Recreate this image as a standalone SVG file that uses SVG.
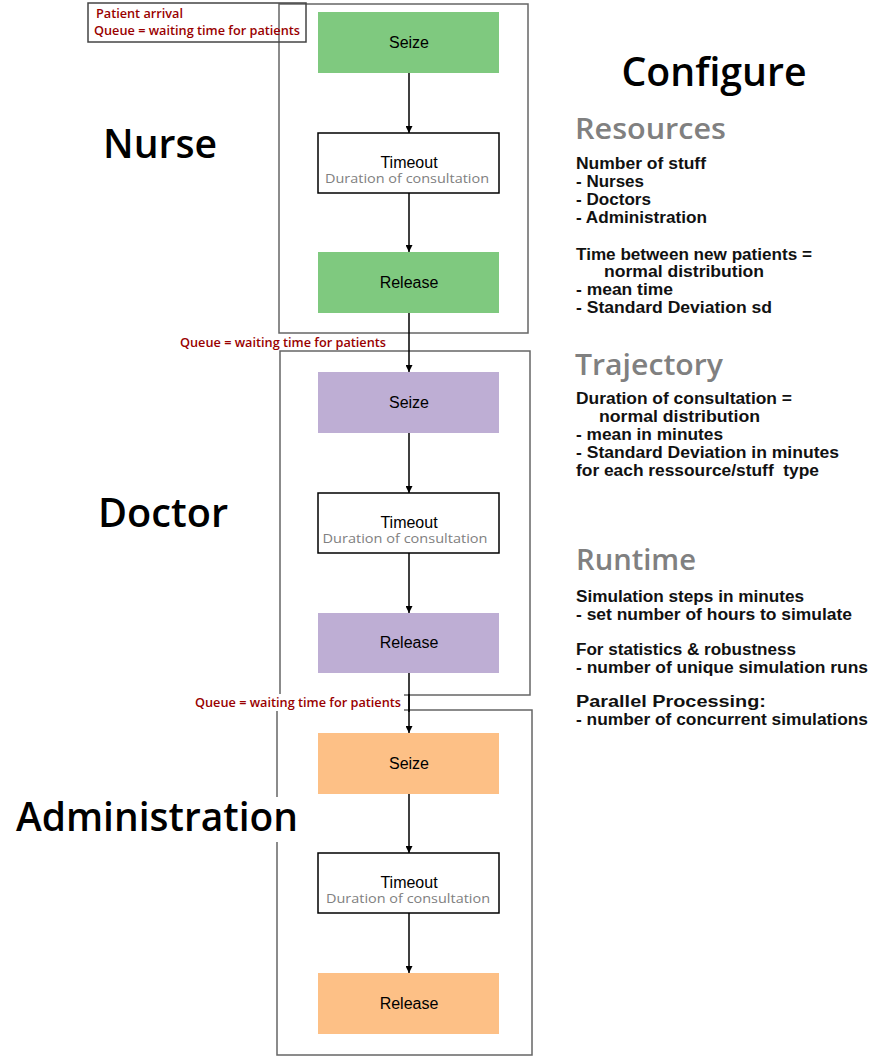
<svg xmlns="http://www.w3.org/2000/svg" width="879" height="1061" viewBox="0 0 879 1061">
<style>
.cont{fill:none;stroke:#666;stroke-width:1.5}
.node{stroke:none}
.tbox{fill:#fff;stroke:#000;stroke-width:1.5}
.ntxt{font-family:"Liberation Sans",Arial,sans-serif;font-size:16px;fill:#000;text-anchor:middle}
.dur{font-family:"Open Sans","Noto Sans",sans-serif;font-size:13px;fill:#808080;text-anchor:middle}
.lab{font-family:"Open Sans","Noto Sans",sans-serif;font-size:12px;font-weight:600;fill:#990000}
.big{font-family:"Open Sans","Noto Sans",sans-serif;font-size:40px;font-weight:600;fill:#000;text-anchor:middle}
.head{font-family:"Open Sans","Noto Sans",sans-serif;font-size:28px;font-weight:600;fill:#808080}
.body{font-family:"Liberation Sans",Arial,sans-serif;font-size:16px;font-weight:bold;fill:#111}
.edge{stroke:#000;stroke-width:1.5;fill:none;marker-end:url(#arr)}
</style>
<defs>
<marker id="arr" viewBox="0 0 10 10" refX="10" refY="5" markerWidth="7" markerHeight="7" markerUnits="userSpaceOnUse" orient="auto">
<path d="M0,0 L10,5 L0,10 z" fill="#000"/>
</marker>
</defs>
<rect width="879" height="1061" fill="#fff"/>

<g id="containers">
<rect id="nurse-container" class="cont" x="279" y="4" width="249" height="329"/>
<rect id="doctor-container" class="cont" x="280" y="351" width="250" height="344"/>
<rect id="admin-container" class="cont" x="277" y="710" width="255" height="345"/>
</g>

<g id="lane-labels">
<text class="big" x="160" y="158" textLength="114" lengthAdjust="spacingAndGlyphs">Nurse</text>
<text class="big" x="163" y="527" textLength="130" lengthAdjust="spacingAndGlyphs">Doctor</text>
<rect x="10" y="797" width="294" height="45" fill="#fff"/>
<text class="big" x="157" y="831" textLength="282" lengthAdjust="spacingAndGlyphs">Administration</text>
</g>

<g id="patient-arrival">
<rect x="88" y="3" width="218" height="39" fill="none" stroke="#444" stroke-width="1.5"/>
<text class="lab" x="96" y="18" textLength="87" lengthAdjust="spacingAndGlyphs">Patient arrival</text>
<text class="lab" x="94" y="35" textLength="206" lengthAdjust="spacingAndGlyphs">Queue = waiting time for patients</text>
</g>

<g id="nurse-seize"><rect class="node" x="318" y="12" width="181" height="61" fill="#7fc97f"/><text class="ntxt" x="409" y="48">Seize</text></g>
<g id="nurse-timeout"><rect class="tbox" x="318" y="133" width="181" height="60"/><text class="ntxt" x="409" y="168">Timeout</text><text class="dur" x="407" y="183" textLength="164" lengthAdjust="spacingAndGlyphs">Duration of consultation</text></g>
<g id="nurse-release"><rect class="node" x="318" y="252" width="181" height="61" fill="#7fc97f"/><text class="ntxt" x="409" y="288">Release</text></g>

<g id="doctor-seize"><rect class="node" x="318" y="372" width="181" height="61" fill="#beaed4"/><text class="ntxt" x="409" y="408">Seize</text></g>
<g id="doctor-timeout"><rect class="tbox" x="318" y="493" width="181" height="60"/><text class="ntxt" x="409" y="528">Timeout</text><text class="dur" x="405" y="543" textLength="165" lengthAdjust="spacingAndGlyphs">Duration of consultation</text></g>
<g id="doctor-release"><rect class="node" x="318" y="613" width="181" height="60" fill="#beaed4"/><text class="ntxt" x="409" y="648">Release</text></g>

<g id="admin-seize"><rect class="node" x="318" y="733" width="181" height="61" fill="#fdc086"/><text class="ntxt" x="409" y="769">Seize</text></g>
<g id="admin-timeout"><rect class="tbox" x="318" y="853" width="181" height="60"/><text class="ntxt" x="409" y="888">Timeout</text><text class="dur" x="408" y="903" textLength="164" lengthAdjust="spacingAndGlyphs">Duration of consultation</text></g>
<g id="admin-release"><rect class="node" x="318" y="973" width="181" height="61" fill="#fdc086"/><text class="ntxt" x="409" y="1009">Release</text></g>

<g id="connectors">
<line class="edge" x1="409" y1="73" x2="409" y2="133"/>
<line class="edge" x1="409" y1="193" x2="409" y2="252"/>
<line class="edge" x1="409" y1="313" x2="409" y2="372"/>
<line class="edge" x1="409" y1="433" x2="409" y2="493"/>
<line class="edge" x1="409" y1="553" x2="409" y2="613"/>
<line class="edge" x1="409" y1="673" x2="409" y2="733"/>
<line class="edge" x1="409" y1="794" x2="409" y2="853"/>
<line class="edge" x1="409" y1="913" x2="409" y2="973"/>
</g>

<g id="queue-labels">
<text class="lab" x="180" y="347" textLength="206" lengthAdjust="spacingAndGlyphs">Queue = waiting time for patients</text>
<rect x="190" y="694" width="214" height="17" fill="#fff"/>
<line x1="409" y1="694" x2="409" y2="712" stroke="#000" stroke-width="1.5"/>
<text class="lab" x="195" y="707" textLength="206" lengthAdjust="spacingAndGlyphs">Queue = waiting time for patients</text>
</g>

<g id="configure">
<text class="big" x="714" y="86" font-size="42" textLength="185" lengthAdjust="spacingAndGlyphs">Configure</text>
<text class="head" x="575" y="139" textLength="151" lengthAdjust="spacingAndGlyphs">Resources</text>
<text class="body" x="576" y="169" textLength="130" lengthAdjust="spacingAndGlyphs">Number of stuff</text>
<text class="body" x="576" y="187" textLength="68" lengthAdjust="spacingAndGlyphs">- Nurses</text>
<text class="body" x="576" y="205" textLength="75" lengthAdjust="spacingAndGlyphs">- Doctors</text>
<text class="body" x="576" y="223" textLength="131" lengthAdjust="spacingAndGlyphs">- Administration</text>
<text class="body" x="576" y="260" textLength="236" lengthAdjust="spacingAndGlyphs">Time between new patients =</text>
<text class="body" x="604" y="277" textLength="160" lengthAdjust="spacingAndGlyphs">normal distribution</text>
<text class="body" x="576" y="295" textLength="97" lengthAdjust="spacingAndGlyphs">- mean time</text>
<text class="body" x="576" y="313" textLength="196" lengthAdjust="spacingAndGlyphs">- Standard Deviation sd</text>

<text class="head" x="575" y="375" textLength="148" lengthAdjust="spacingAndGlyphs">Trajectory</text>
<text class="body" x="576" y="404" textLength="216" lengthAdjust="spacingAndGlyphs">Duration of consultation =</text>
<text class="body" x="599" y="422" textLength="161" lengthAdjust="spacingAndGlyphs">normal distribution</text>
<text class="body" x="576" y="440" textLength="147" lengthAdjust="spacingAndGlyphs">- mean in minutes</text>
<text class="body" x="576" y="458" textLength="263" lengthAdjust="spacingAndGlyphs">- Standard Deviation in minutes</text>
<text class="body" x="576" y="476" textLength="243" lengthAdjust="spacingAndGlyphs" xml:space="preserve">for each ressource/stuff  type</text>

<text class="head" x="576" y="570" textLength="120" lengthAdjust="spacingAndGlyphs">Runtime</text>
<text class="body" x="576" y="602" textLength="228" lengthAdjust="spacingAndGlyphs">Simulation steps in minutes</text>
<text class="body" x="576" y="620" textLength="276" lengthAdjust="spacingAndGlyphs">- set number of hours to simulate</text>
<text class="body" x="576" y="655" textLength="220" lengthAdjust="spacingAndGlyphs">For statistics &amp; robustness</text>
<text class="body" x="576" y="673" textLength="292" lengthAdjust="spacingAndGlyphs">- number of unique simulation runs</text>
<text class="body" x="576" y="707" textLength="190" lengthAdjust="spacingAndGlyphs">Parallel Processing:</text>
<text class="body" x="576" y="725" textLength="292" lengthAdjust="spacingAndGlyphs">- number of concurrent simulations</text>
</g>
</svg>
